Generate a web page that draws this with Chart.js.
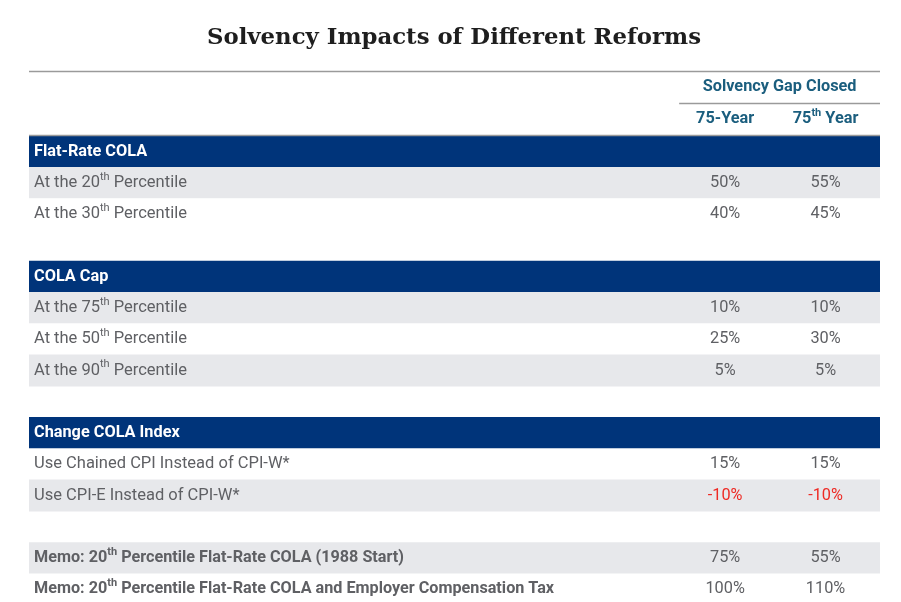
<!DOCTYPE html>
<html>
<head>
<meta charset="utf-8">
<title>Solvency Impacts of Different Reforms</title>
<script src="https://cdn.jsdelivr.net/npm/chart.js@4.4.1/dist/chart.umd.min.js"></script>
<style>
  html, body { margin: 0; padding: 0; background: #fff; overflow: hidden; }
  #wrap { width: 901px; height: 602px; overflow: hidden; }
</style>
</head>
<body>
<div id="wrap"><canvas id="table" width="901" height="605"></canvas></div>
<script>
// DATA
const chartTitle = 'Solvency Impacts of Different Reforms';
const groupHeader = 'Solvency Gap Closed';
const columnHeaders = ['75-Year', '75{th} Year'];

// one entry per table row, {..} marks superscript text
const rowLabels = [
    'Flat-Rate COLA',
    'At the 20{th} Percentile',
    'At the 30{th} Percentile',
    '',
    'COLA Cap',
    'At the 75{th} Percentile',
    'At the 50{th} Percentile',
    'At the 90{th} Percentile',
    '',
    'Change COLA Index',
    'Use Chained CPI Instead of CPI-W*',
    'Use CPI-E Instead of CPI-W*',
    '',
    'Memo: 20{th} Percentile Flat-Rate COLA (1988 Start)',
    'Memo: 20{th} Percentile Flat-Rate COLA and Employer Compensation Tax'
];
const rowKinds = ['section', 'item', 'item', 'gap', 'section', 'item', 'item', 'item', 'gap',
                  'section', 'item', 'item', 'gap', 'memo', 'memo'];
const gap75Year = [null, 50, 40, null, null, 10, 25, 5, null, null, 15, -10, null, 75, 100];
const gap75thYear = [null, 55, 45, null, null, 10, 30, 5, null, null, 15, -10, null, 55, 110];

// STYLE
const NAVY = '#00347a';
const SHADE = '#e7e8eb';
const TEXT = '#5f6064';
const TEAL = '#1b5e7e';
const RED = '#ee2a24';
const RULE = '#9a9a9a';
const SANS = 'Roboto, "Liberation Sans", sans-serif';
const colPos = [0.818, 0.936];   // column centres on the 0..1 x scale
const groupLeft = 0.764;

function rowColor(kind, i) {
    if (kind === 'gap') return 'rgba(0,0,0,0)';
    if (kind === 'section') return NAVY;
    return i % 2 === 1 ? SHADE : '#ffffff';
}

// draw text with {sup} parts
function drawRich(ctx, text, x, y, size, weight, color, align) {
    const parts = text.split(/(\{[^}]*\})/).filter(p => p.length);
    const base = `${weight} ${size}px ${SANS}`;
    const sup = `${weight} ${Math.round(size * 0.66)}px ${SANS}`;
    let total = 0;
    parts.forEach(p => {
        ctx.font = p[0] === '{' ? sup : base;
        total += ctx.measureText(p[0] === '{' ? p.slice(1, -1) : p).width;
    });
    let cx = align === 'center' ? x - total / 2 : x;
    ctx.fillStyle = color;
    ctx.textAlign = 'left';
    ctx.textBaseline = 'middle';
    parts.forEach(p => {
        const isSup = p[0] === '{';
        const t = isSup ? p.slice(1, -1) : p;
        ctx.font = isSup ? sup : base;
        ctx.fillText(t, cx, isSup ? y - size * 0.36 : y);
        cx += ctx.measureText(t).width;
    });
}

const tablePlugin = {
    id: 'tableText',
    afterDatasetsDraw(chart) {
        const ctx = chart.ctx;
        const xs = chart.scales.x;
        const ys = chart.scales.y;
        const area = chart.chartArea;
        ctx.save();

        // title
        ctx.fillStyle = '#1e1e1e';
        ctx.font = 'bold 22.8px "DejaVu Serif", serif';
        ctx.textAlign = 'center';
        ctx.textBaseline = 'middle';
        ctx.fillText(chartTitle, 454, 38);

        // rules
        ctx.strokeStyle = RULE;
        ctx.lineWidth = 1.5;
        ctx.beginPath();
        ctx.moveTo(area.left, 71.5); ctx.lineTo(area.right, 71.5);
        ctx.moveTo(xs.getPixelForValue(groupLeft), 103.5); ctx.lineTo(area.right, 103.5);
        ctx.moveTo(area.left, area.top - 0.5); ctx.lineTo(area.right, area.top - 0.5);
        ctx.stroke();

        // column headers
        const gx = (xs.getPixelForValue(groupLeft) + area.right) / 2;
        drawRich(ctx, groupHeader, gx, 87, 16.3, 'bold', TEAL, 'center');
        columnHeaders.forEach((h, c) => {
            drawRich(ctx, h, xs.getPixelForValue(colPos[c]), 119, 16.3, 'bold', TEAL, 'center');
        });

        // rows
        rowLabels.forEach((label, i) => {
            const kind = rowKinds[i];
            if (kind === 'gap') return;
            const y = ys.getPixelForValue(i);
            if (kind === 'section') {
                drawRich(ctx, label, area.left + 5, y, 16.3, 'bold', '#ffffff', 'left');
                return;
            }
            if (kind === 'memo') {
                drawRich(ctx, label, area.left + 5, y, 16.2, 'bold', TEXT, 'left');
            } else {
                drawRich(ctx, label, area.left + 5, y, 16.5, 'normal', TEXT, 'left');
            }
            [gap75Year[i], gap75thYear[i]].forEach((v, c) => {
                if (v === null) return;
                drawRich(ctx, `${v}%`, xs.getPixelForValue(colPos[c]), y, 16.3, 'normal',
                         v < 0 ? RED : TEXT, 'center');
            });
        });
        ctx.restore();
    }
};

new Chart(document.getElementById('table'), {
    type: 'bar',
    data: {
        labels: rowLabels,
        datasets: [{
            data: rowKinds.map(k => k === 'gap' ? null : [0, 1]),
            backgroundColor: rowKinds.map((k, i) => rowColor(k, i)),
            borderWidth: 0,
            borderSkipped: false,
            barPercentage: 1,
            categoryPercentage: 1
        }]
    },
    options: {
        indexAxis: 'y',
        responsive: false,
        animation: false,
        devicePixelRatio: 1,
        layout: { padding: { left: 29, right: 21, top: 136, bottom: 0 } },
        scales: {
            x: { type: 'linear', min: 0, max: 1, display: false },
            y: { type: 'category', display: false, offset: true, grid: { display: false } }
        },
        plugins: {
            legend: { display: false },
            tooltip: { enabled: false },
            title: { display: false }
        }
    },
    plugins: [tablePlugin]
});
</script>
</body>
</html>
